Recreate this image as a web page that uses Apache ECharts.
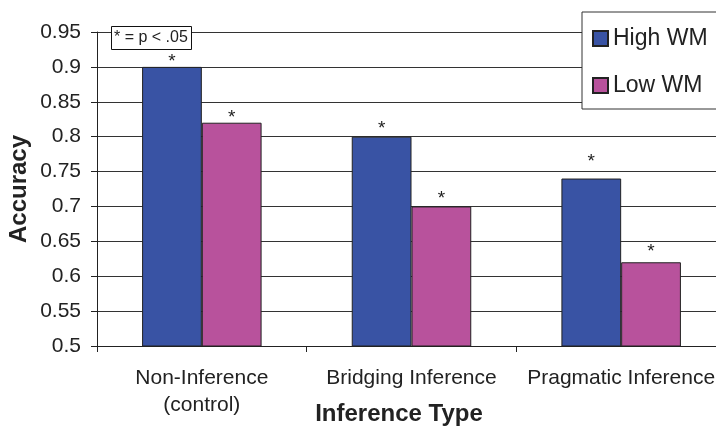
<!DOCTYPE html>
<html>
<head>
<meta charset="utf-8">
<script src="https://cdn.jsdelivr.net/npm/echarts@6/dist/echarts.min.js"></script>
<style>html,body{margin:0;padding:0;background:#fff}#c{width:716px;height:435px}</style>
</head>
<body>
<div id="c"></div>
<script>
const categories = ['Non-Inference\n(control)', 'Bridging Inference', 'Pragmatic Inference'];
const highWM = [0.90, 0.80, 0.74];
const lowWM = [0.82, 0.70, 0.62];
const yTicks = { min: 0.5, max: 0.95, interval: 0.05 };
const seriesNames = ['High WM', 'Low WM'];
const noteText = '* = p < .05';

const highLift = [-4, -2, 7];
const lowLift = [-5, -2, 1];
const font = '"Liberation Sans", Arial, sans-serif';

function mk(name, vals, color, lifts) {
  return {
    name: name, type: 'bar', barGap: '0%', barCategoryGap: '43%',
    itemStyle: { color: color, borderColor: '#222', borderWidth: 1 },
    data: vals.map((v, i) => ({
      value: v,
      label: { show: true, position: 'top', distance: lifts[i], formatter: '*',
               fontSize: 19, color: '#222', fontFamily: font }
    }))
  };
}

const chart = echarts.init(document.getElementById('c'), null, { renderer: 'canvas' });
chart.setOption({
  animation: false,
  backgroundColor: '#fff',
  textStyle: { fontFamily: font },
  title: {
    text: noteText, left: 111, top: 26,
    borderColor: '#111', borderWidth: 1, backgroundColor: '#fff',
    padding: [4, 4, 4, 3],
    textStyle: { fontSize: 16, fontWeight: 'normal', color: '#222', fontFamily: font }
  },
  legend: {
    orient: 'vertical', left: 582, top: 12,
    padding: [15, 40, 12, 10], itemGap: 24,
    itemWidth: 15, itemHeight: 15, icon: 'rect',
    borderColor: '#333', borderWidth: 1, backgroundColor: '#fff',
    textStyle: { fontSize: 23, color: '#222', fontFamily: font, padding: [0, 0, 0, 0] },
    data: seriesNames
  },
  grid: { left: 97, top: 32, bottom: 89, right: -10, containLabel: false, outerBoundsMode: 'none' },
  xAxis: {
    type: 'category', data: categories,
    name: 'Inference Type', nameLocation: 'middle', nameGap: 56, nameMoveOverlap: false,
    nameTextStyle: { fontSize: 24, fontWeight: 'bold', color: '#222', padding: [0, 25, 0, 0], fontFamily: font },
    axisLine: { lineStyle: { color: '#222', width: 1 } },
    axisTick: { show: true, length: 6, alignWithLabel: false, lineStyle: { color: '#222' } },
    axisLabel: { fontSize: 21, color: '#222', margin: 19, lineHeight: 27, interval: 0, fontFamily: font }
  },
  yAxis: {
    type: 'value', min: yTicks.min, max: yTicks.max, interval: yTicks.interval,
    name: 'Accuracy', nameLocation: 'middle', nameGap: 66, nameRotate: 90, nameMoveOverlap: false,
    nameTextStyle: { fontSize: 24, fontWeight: 'bold', color: '#222', fontFamily: font },
    axisLine: { show: true, lineStyle: { color: '#222', width: 1 } },
    axisTick: { show: true, length: 6, lineStyle: { color: '#222' } },
    axisLabel: { fontSize: 21, color: '#222', margin: 16, fontFamily: font,
                 formatter: v => String(parseFloat(v.toFixed(2))) },
    splitLine: { show: true, lineStyle: { color: '#333', width: 1 } }
  },
  series: [
    mk(seriesNames[0], highWM, '#3953A4', highLift),
    mk(seriesNames[1], lowWM, '#B8529C', lowLift)
  ]
});
</script>
</body>
</html>
